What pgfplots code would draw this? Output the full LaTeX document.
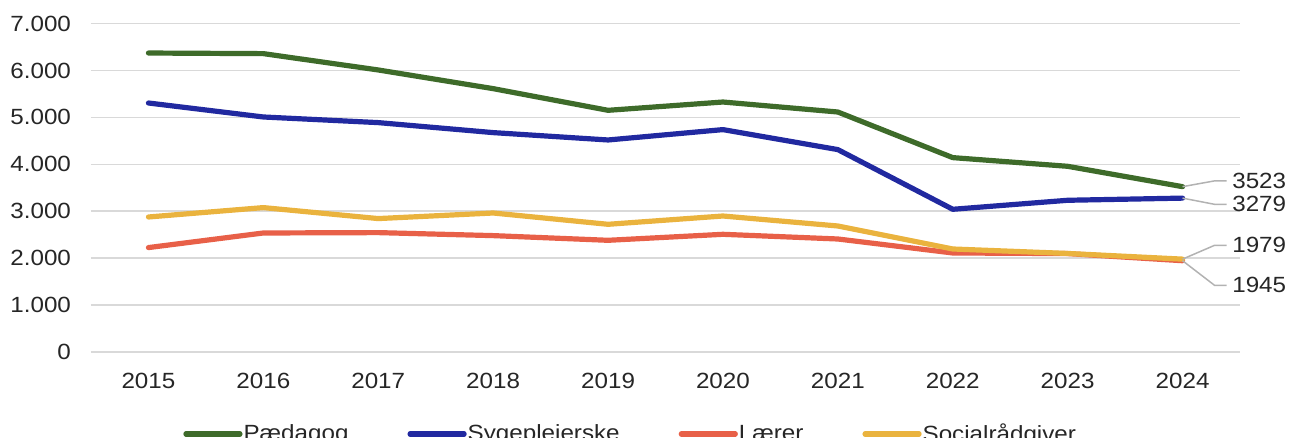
\documentclass[border=0pt]{standalone}
\usepackage{fontspec}
\setmainfont{Liberation Sans}[FakeStretch=1.1]
\usepackage{pgfplots}
\pgfplotsset{compat=1.18}
\definecolor{cgreen}{RGB}{62,107,42}
\definecolor{cblue}{RGB}{33,41,160}
\definecolor{cred}{RGB}{232,96,72}
\definecolor{cyellow}{RGB}{234,179,62}
\definecolor{cgrid}{RGB}{217,217,217}
\definecolor{ctext}{RGB}{38,38,38}
\definecolor{clead}{RGB}{178,178,178}
\newcommand{\lblfont}{\fontsize{11}{13}\selectfont}
\begin{document}
\begin{tikzpicture}
\useasboundingbox (0,0) rectangle (646pt,219pt);
\begin{axis}[
  at={(45.5pt,43pt)}, anchor=south west,
  width=574.5pt, height=164.25pt, scale only axis,
  xmin=2014.5, xmax=2024.5, ymin=0, ymax=7000,
  xtick={2015,2016,2017,2018,2019,2020,2021,2022,2023,2024},
  xticklabels={2015,2016,2017,2018,2019,2020,2021,2022,2023,2024},
  ytick={0,1000,2000,3000,4000,5000,6000,7000},
  axis line style={draw=none}, tick style={draw=none},
  ymajorgrids, grid style={cgrid, line width=0.75pt},
  /pgf/number format/assume math mode=true,
  tick label style={font=\lblfont, text=ctext},
  yticklabel style={/pgf/number format/.cd, 1000 sep={.}, /tikz/.cd, xshift=-6.5pt},
  xticklabel style={yshift=-7pt},
  clip=false,
  legend columns=4,
  legend style={draw=none, fill=none, font=\lblfont, text=ctext,
    at={(0.0748,-0.2496)}, anchor=west,
    nodes={inner sep=0.5pt},
    /tikz/every even column/.append style={column sep=29pt}},
  legend cell align=left,
  legend image code/.code={\draw[line width=2.6pt, line cap=round] (0pt,0pt) -- (27pt,0pt);},
  every axis plot/.append style={line width=2.6pt, line join=round, line cap=round, no markers},
]
\addplot[cgreen] coordinates {(2015,6371) (2016,6358) (2017,6010) (2018,5612) (2019,5150) (2020,5327) (2021,5114) (2022,4142) (2023,3957) (2024,3523)};
\addplot[cblue] coordinates {(2015,5306) (2016,5008) (2017,4888) (2018,4675) (2019,4518) (2020,4739) (2021,4313) (2022,3041) (2023,3233) (2024,3279)};
\addplot[cred] coordinates {(2015,2225) (2016,2536) (2017,2544) (2018,2480) (2019,2380) (2020,2508) (2021,2408) (2022,2110) (2023,2097) (2024,1945)};
\addplot[cyellow] coordinates {(2015,2877) (2016,3077) (2017,2843) (2018,2962) (2019,2721) (2020,2898) (2021,2685) (2022,2195) (2023,2100) (2024,1979)};
\legend{Pædagog,Sygeplejerske,Lærer,Socialrådgiver}
\draw[clead, line width=0.75pt] (axis cs:2024,3523) -- ++(16pt,2.9pt) -- ++(6pt,0pt) node[anchor=west, text=ctext, inner sep=2.5pt, font=\lblfont] {3523};
\draw[clead, line width=0.75pt] (axis cs:2024,3279) -- ++(16pt,-3.1pt) -- ++(6pt,0pt) node[anchor=west, text=ctext, inner sep=2.5pt, font=\lblfont] {3279};
\draw[clead, line width=0.75pt] (axis cs:2024,1979) -- ++(16pt,6.9pt) -- ++(6pt,0pt) node[anchor=west, text=ctext, inner sep=2.5pt, font=\lblfont] {1979};
\draw[clead, line width=0.75pt] (axis cs:2024,1945) -- ++(16pt,-12.3pt) -- ++(6pt,0pt) node[anchor=west, text=ctext, inner sep=2.5pt, font=\lblfont] {1945};
\end{axis}
\end{tikzpicture}
\end{document}
